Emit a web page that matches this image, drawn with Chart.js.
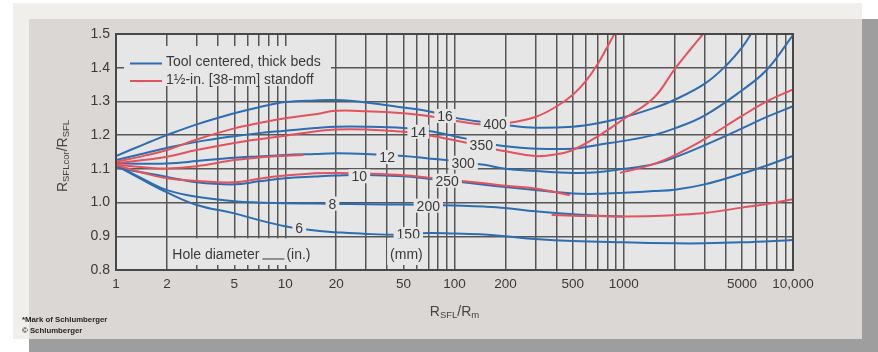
<!DOCTYPE html>
<html>
<head>
<meta charset="utf-8">
<script src="https://cdn.jsdelivr.net/npm/chart.js@4.4.1/dist/chart.umd.min.js"></script>
<style>
  html, body { margin: 0; padding: 0; background: #fff; }
  canvas { display: block; }
</style>
</head>
<body>
<canvas id="chart" width="878" height="352"></canvas>
<script>
// RSFLcor/RSFL borehole correction curves vs RSFL/Rm, by hole diameter.
// Blue: tool centered, thick beds. Red: 1½-in. [38-mm] standoff.

const b16X = [1, 1.5, 2, 3, 5, 7, 10, 15, 20, 30, 50, 70, 100, 150, 200, 300, 500, 700, 1000, 1500, 2000, 3000, 4000, 5000, 5650];
const b16Y = [1.138, 1.175, 1.2, 1.232, 1.265, 1.283, 1.298, 1.303, 1.304, 1.297, 1.282, 1.271, 1.252, 1.238, 1.23, 1.222, 1.225, 1.235, 1.253, 1.28, 1.305, 1.352, 1.405, 1.46, 1.5];

const r16X = [1, 1.5, 2, 3, 5, 7, 10, 15, 20, 30, 50, 70, 100, 150, 200, 300, 400, 500, 600, 700, 880];
const r16Y = [1.121, 1.14, 1.156, 1.187, 1.22, 1.236, 1.25, 1.262, 1.272, 1.271, 1.265, 1.257, 1.243, 1.231, 1.235, 1.254, 1.285, 1.32, 1.362, 1.41, 1.5];

const b14X = [1, 1.5, 2, 3, 5, 7, 10, 15, 20, 30, 50, 70, 100, 150, 200, 300, 500, 700, 1000, 1500, 2000, 3000, 5000, 7000, 10000];
const b14Y = [1.126, 1.147, 1.162, 1.18, 1.197, 1.206, 1.213, 1.221, 1.225, 1.225, 1.221, 1.213, 1.197, 1.178, 1.167, 1.16, 1.16, 1.171, 1.183, 1.2, 1.22, 1.258, 1.333, 1.394, 1.497];

const r14X = [1, 1.5, 2, 3, 5, 7, 10, 15, 20, 30, 50, 70, 100, 150, 200, 300, 400, 500, 700, 1000, 1500, 2000, 2500, 2940];
const r14Y = [1.117, 1.127, 1.136, 1.156, 1.177, 1.188, 1.198, 1.211, 1.217, 1.217, 1.21, 1.2, 1.185, 1.165, 1.152, 1.138, 1.143, 1.156, 1.196, 1.248, 1.31, 1.396, 1.457, 1.5];

const b12X = [1, 1.5, 2, 3, 5, 7, 10, 15, 20, 30, 50, 70, 100, 150, 200, 300, 500, 700, 1000, 1500, 2000, 3000, 5000, 7000, 10000];
const b12Y = [1.117, 1.115, 1.116, 1.123, 1.133, 1.137, 1.141, 1.144, 1.146, 1.144, 1.138, 1.131, 1.123, 1.112, 1.1, 1.094, 1.088, 1.09, 1.1, 1.114, 1.134, 1.17, 1.22, 1.254, 1.286];

// red 12-in. curve runs under the blue one between the two visible pieces
const r12X = [1, 1.5, 2, 3, 5, 7, 10, 12.8, 100, 950, 1000, 1500, 2000, 3000, 5000, 7000, 10000];
const r12Y = [1.112, 1.104, 1.101, 1.108, 1.126, 1.134, 1.139, 1.141, null, 1.088, 1.091, 1.114, 1.14, 1.188, 1.257, 1.3, 1.336];

const b10X = [1, 1.5, 2, 3, 5, 7, 10, 15, 20, 30, 50, 70, 100, 150, 200, 300, 500, 700, 1000, 1500, 2000, 3000, 5000, 7000, 10000];
const b10Y = [1.103, 1.088, 1.076, 1.06, 1.054, 1.063, 1.072, 1.077, 1.08, 1.082, 1.078, 1.071, 1.063, 1.053, 1.046, 1.037, 1.027, 1.026, 1.029, 1.034, 1.038, 1.054, 1.086, 1.11, 1.138];

const r10X = [1, 1.5, 2, 3, 5, 7, 10, 15, 20, 30, 50, 70, 100, 150, 200, 300, 480];
const r10Y = [1.111, 1.086, 1.072, 1.064, 1.06, 1.071, 1.08, 1.087, 1.088, 1.086, 1.081, 1.074, 1.066, 1.057, 1.05, 1.042, 1.022];

const b8X = [1, 1.5, 2, 3, 5, 7, 10, 15, 20, 30, 50, 70, 100, 150, 200, 300, 500, 700, 1000];
const b8Y = [1.11, 1.066, 1.037, 1.017, 1.004, 1.0, 0.998, 0.997, 0.996, 0.995, 0.994, 0.993, 0.991, 0.988, 0.984, 0.974, 0.965, 0.961, 0.959];

const r8X = [375, 500, 700, 1000, 1500, 2000, 3000, 5000, 7000, 10000];
const r8Y = [0.963, 0.961, 0.96, 0.959, 0.96, 0.963, 0.969, 0.985, 0.996, 1.01];

const b6X = [1, 1.5, 2, 3, 5, 7, 10, 15, 20, 30, 50, 70, 100, 150, 200, 300, 500, 1000, 2000, 3000, 5000, 10000];
const b6Y = [1.11, 1.062, 1.03, 0.993, 0.968, 0.948, 0.93, 0.917, 0.912, 0.907, 0.905, 0.91, 0.908, 0.905, 0.9, 0.892, 0.886, 0.882, 0.879, 0.879, 0.882, 0.889];

// Curve labels: hole diameter in inches and mm, placed on the curves
const curveLabels = ['16', '400', '14', '350', '12', '300', '10', '250', '8', '200', '6', '150'];
const labelAtR = [88, 174, 61, 144, 40, 112.5, 27.4, 90.5, 19, 70, 12.1, 53.3];
const labelAtRatio = [1.257, 1.234, 1.21, 1.1715, 1.135, 1.118, 1.078, 1.065, 0.997, 0.991, 0.925, 0.907];

// x-axis tick labels
const labeledTicks = [1, 2, 5, 10, 20, 50, 100, 200, 500, 1000, 5000, 10000];
const tickText = ['1', '2', '5', '10', '20', '50', '100', '200', '500', '1000', '5000', '10,000'];

const legendText = ['Tool centered, thick beds', '1½-in. [38-mm] standoff'];

const BLUE = '#2d6db0';
const RED = '#e2535d';
const PLOT_BG = '#e6e6e6';
const TEXT = '#3a3a3a';
const FONT = '"Liberation Sans", Arial, Helvetica, sans-serif';

// log grid at 1..9 x 10^k
const gridValues = [];
for (let k = 0; k < 4; k++) {
  const p = Math.pow(10, k);
  for (let d = 1; d <= 9; d++) gridValues.push(d * p);
}
gridValues.push(10000);

function pts(xs, ys) { return xs.map((x, i) => ({ x: x, y: ys[i] })); }

function curve(xs, ys, color) {
  return {
    data: pts(xs, ys),
    borderColor: color,
    borderWidth: 2,
    pointRadius: 0,
    fill: false,
    spanGaps: false,
    tension: 0.4
  };
}

// first datasets are painted last, so the red curves sit on top
const datasets = [
  curve(r16X, r16Y, RED), curve(r14X, r14Y, RED), curve(r12X, r12Y, RED),
  curve(r10X, r10Y, RED), curve(r8X, r8Y, RED),
  curve(b16X, b16Y, BLUE), curve(b14X, b14Y, BLUE), curve(b12X, b12Y, BLUE),
  curve(b10X, b10Y, BLUE), curve(b8X, b8Y, BLUE), curve(b6X, b6Y, BLUE)
];

function drawSubscripted(ctx, parts, cx, cy) {
  let total = 0;
  parts.forEach(p => { ctx.font = p[1] + 'px ' + FONT; total += ctx.measureText(p[0]).width; });
  let x = cx - total / 2;
  parts.forEach(p => {
    ctx.font = p[1] + 'px ' + FONT;
    ctx.fillText(p[0], x, cy + p[2]);
    x += ctx.measureText(p[0]).width;
  });
}

const decor = {
  id: 'decor',
  beforeDraw(chart) {
    const ctx = chart.ctx, ca = chart.chartArea;
    ctx.save();
    ctx.fillStyle = '#ffffff';
    ctx.fillRect(0, 0, 878, 352);
    ctx.fillStyle = '#f1efec';
    ctx.fillRect(13, 3, 849, 336);
    ctx.fillStyle = '#dad7d4';
    ctx.fillRect(29, 19, 833, 320);
    ctx.fillStyle = '#9e9e9e';
    ctx.fillRect(29, 339, 849, 13);
    ctx.fillRect(862, 19, 16, 333);
    ctx.fillStyle = PLOT_BG;
    ctx.fillRect(ca.left, ca.top, ca.right - ca.left, ca.bottom - ca.top);
    ctx.restore();
  },
  afterDatasetsDraw(chart) {
    const ctx = chart.ctx, ca = chart.chartArea;
    const xs = chart.scales.x, ys = chart.scales.y;
    ctx.save();

    // curve labels with a patch of plot background behind them
    ctx.font = '14px ' + FONT;
    ctx.textAlign = 'center';
    ctx.textBaseline = 'alphabetic';
    curveLabels.forEach((t, i) => {
      const px = xs.getPixelForValue(labelAtR[i]);
      const py = ys.getPixelForValue(labelAtRatio[i]);
      const w = ctx.measureText(t).width;
      ctx.fillStyle = PLOT_BG;
      ctx.fillRect(px - w / 2 - 3, py - 7, w + 6, 14);
      ctx.fillStyle = TEXT;
      ctx.fillText(t, px, py + 5);
    });

    // hole diameter unit notes
    const y09 = ys.getPixelForValue(0.9);
    const noteY = ys.getPixelForValue(0.846);
    const hx = xs.getPixelForValue(2.15);
    ctx.textAlign = 'left';
    const w1 = ctx.measureText('Hole diameter').width;
    const w2 = ctx.measureText('(in.)').width;
    const dashL = 22;
    ctx.fillStyle = PLOT_BG;
    ctx.fillRect(hx - 2, y09 + 2, w1 + dashL + w2 + 9, ca.bottom - 5 - (y09 + 2));
    ctx.fillStyle = TEXT;
    ctx.fillText('Hole diameter', hx, noteY + 5);
    ctx.strokeStyle = TEXT;
    ctx.lineWidth = 1;
    ctx.beginPath();
    ctx.moveTo(hx + w1 + 3, noteY + 4.5);
    ctx.lineTo(hx + w1 + 3 + dashL, noteY + 4.5);
    ctx.stroke();
    ctx.fillText('(in.)', hx + w1 + dashL + 5, noteY + 5);

    const mx = xs.getPixelForValue(52);
    const wm = ctx.measureText('(mm)').width;
    ctx.fillStyle = PLOT_BG;
    ctx.fillRect(mx - wm / 2 - 3, y09 + 2, wm + 6, ca.bottom - 5 - (y09 + 2));
    ctx.fillStyle = TEXT;
    ctx.textAlign = 'center';
    ctx.fillText('(mm)', mx, noteY + 5);

    // legend inside the plot
    const lx = ca.left + 8, ly = ca.top + 12;
    ctx.fillStyle = PLOT_BG;
    ctx.fillRect(lx, ly, 207, 40);
    ctx.lineWidth = 2;
    [BLUE, RED].forEach((c, i) => {
      const yy = ly + 17.5 + i * 17.5;
      ctx.strokeStyle = c;
      ctx.beginPath();
      ctx.moveTo(lx + 6, yy);
      ctx.lineTo(lx + 38, yy);
      ctx.stroke();
      ctx.fillStyle = TEXT;
      ctx.textAlign = 'left';
      ctx.fillText(legendText[i], lx + 42, yy + 2.5);
    });

    // plot frame
    ctx.strokeStyle = '#474747';
    ctx.lineWidth = 2;
    ctx.strokeRect(ca.left, ca.top, ca.right - ca.left, ca.bottom - ca.top);
    ctx.restore();
  },
  afterDraw(chart) {
    const ctx = chart.ctx, ca = chart.chartArea;
    ctx.save();
    ctx.fillStyle = '#444';
    ctx.textAlign = 'left';
    ctx.textBaseline = 'middle';
    // x-axis title
    drawSubscripted(ctx, [['R', 14, 0], ['SFL', 9.5, 3], ['/', 14, 0], ['R', 14, 0], ['m', 9.5, 3]],
      (ca.left + ca.right) / 2, 312);
    // y-axis title
    ctx.translate(63, (ca.top + ca.bottom) / 2 + 4);
    ctx.rotate(-Math.PI / 2);
    drawSubscripted(ctx, [['R', 14, 0], ['SFLcor', 9.5, 3], ['/', 14, 0], ['R', 14, 0], ['SFL', 9.5, 3]], 0, 0);
    ctx.restore();

    // footnote
    ctx.save();
    ctx.fillStyle = '#262626';
    ctx.font = 'bold 7.8px ' + FONT;
    ctx.textAlign = 'left';
    ctx.textBaseline = 'middle';
    ctx.fillText('*Mark of Schlumberger', 22, 320);
    ctx.fillText('© Schlumberger', 22, 330.5);
    ctx.restore();
  }
};

new Chart(document.getElementById('chart'), {
  type: 'line',
  data: { datasets: datasets },
  options: {
    responsive: false,
    animation: false,
    devicePixelRatio: 1,
    layout: { padding: { left: 0, right: 85, top: 34, bottom: 52 } },
    plugins: { legend: { display: false }, tooltip: { enabled: false } },
    scales: {
      x: {
        type: 'logarithmic',
        min: 1,
        max: 10000,
        afterBuildTicks: s => { s.ticks = gridValues.map(v => ({ value: v })); },
        afterFit: s => { s.height = 30; },
        ticks: {
          autoSkip: false,
          maxRotation: 0,
          padding: 6,
          color: TEXT,
          font: { family: FONT, size: 13.5 },
          callback: v => { const i = labeledTicks.indexOf(v); return i >= 0 ? tickText[i] : ''; }
        },
        grid: { color: '#565656', lineWidth: 1.5, drawTicks: false },
        border: { display: false }
      },
      y: {
        type: 'linear',
        min: 0.8,
        max: 1.5,
        afterFit: s => { s.width = 116; },
        ticks: {
          stepSize: 0.1,
          padding: 6,
          color: TEXT,
          font: { family: FONT, size: 14 },
          callback: v => Number(v).toFixed(1)
        },
        grid: { color: '#565656', lineWidth: 1.5, drawTicks: false },
        border: { display: false }
      }
    }
  },
  plugins: [decor]
});
</script>
</body>
</html>
